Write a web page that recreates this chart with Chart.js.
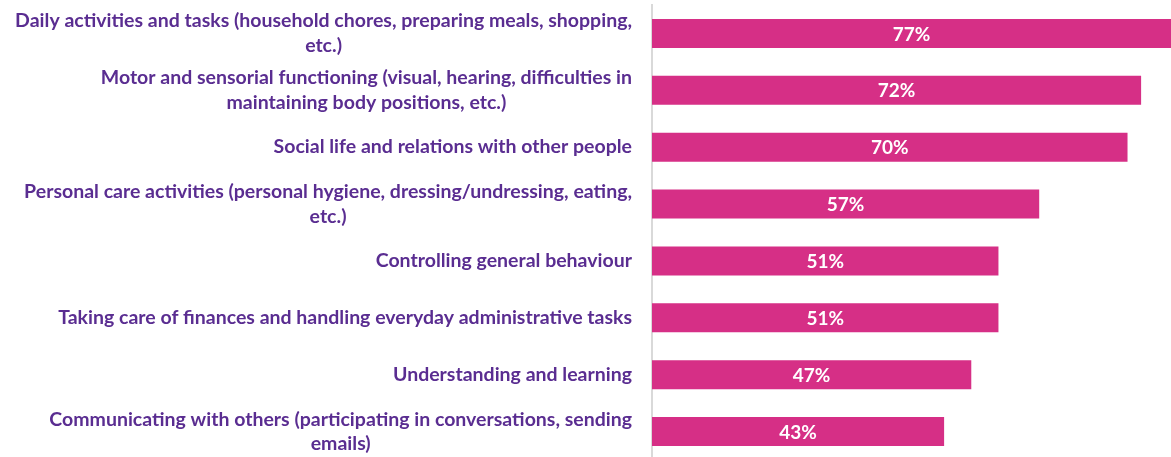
<!DOCTYPE html>
<html>
<head>
<meta charset="utf-8">
<script src="https://cdn.jsdelivr.net/npm/chart.js@4"></script>
<style>
  html, body { margin: 0; padding: 0; background: #fff; overflow: hidden; }
  #wrap { width: 1171px; height: 457px; overflow: hidden; }
  #box { position: relative; width: 1171px; height: 460px; }
</style>
</head>
<body>
<div id="wrap"><div id="box"><canvas id="barChart"></canvas></div></div>
<script>
// categories, wrapped like in the original
let categories = [
    ['Daily activities and tasks (household chores, preparing meals, shopping,', 'etc.)'],
    ['Motor and sensorial functioning (visual, hearing, difficulties in', 'maintaining body positions, etc.)'],
    ['Social life and relations with other people'],
    ['Personal care activities (personal hygiene, dressing/undressing, eating,', 'etc.)'],
    ['Controlling general behaviour'],
    ['Taking care of finances and handling everyday administrative tasks'],
    ['Understanding and learning'],
    ['Communicating with others (participating in conversations, sending', 'emails)']
];
// share in percent
let values = [77, 72, 70, 57, 51, 51, 47, 43];

const labelFont = 'bold 19.5px Lato';

//Draw the percentage inside every bar
const barLabels = {
    id: 'barLabels',
    afterDatasetsDraw(chart) {
        let ctx = chart.ctx;
        let area = chart.chartArea;
        let meta = chart.getDatasetMeta(0);
        ctx.save();
        ctx.fillStyle = '#ffffff';
        ctx.font = 'bold 19px Lato';
        ctx.textAlign = 'center';
        ctx.textBaseline = 'middle';
        meta.data.forEach((bar, i) => {
            let right = Math.min(bar.x, area.right);
            ctx.fillText(values[i] + '%', (bar.base + right) / 2, bar.y + 1);
        });
        ctx.restore();
    }
};

//Category names: block right aligned to the axis, lines centered inside the block
const categoryLabels = {
    id: 'categoryLabels',
    afterDraw(chart) {
        let ctx = chart.ctx;
        let yScale = chart.scales.y;
        let rightEdge = yScale.right - 20;
        let lineHeight = 24.5;
        ctx.save();
        ctx.fillStyle = '#5a2d91';
        ctx.font = labelFont;
        ctx.textAlign = 'center';
        ctx.textBaseline = 'middle';
        categories.forEach((lines, i) => {
            let y = yScale.getPixelForValue(i);
            let blockWidth = Math.max(...lines.map(l => ctx.measureText(l).width));
            let cx = rightEdge - blockWidth / 2;
            let top = y - (lines.length - 1) * lineHeight / 2;
            lines.forEach((line, j) => {
                ctx.fillText(line, cx, top + j * lineHeight);
            });
        });
        ctx.restore();
    }
};

let barCtx = document.getElementById('barChart').getContext('2d');
let barChart = new Chart(barCtx, {
    type: 'bar',
    data: {
        labels: categories.map(c => c.join(' ')),
        datasets: [{
            data: values,
            backgroundColor: '#d62f86',
            borderWidth: 0,
            barPercentage: 0.51,
            categoryPercentage: 1
        }]
    },
    options: {
        indexAxis: 'y',
        responsive: true,
        maintainAspectRatio: false,
        animation: false,
        layout: { padding: { top: 5, right: 0, bottom: 0, left: 0 } },
        plugins: {
            legend: { display: false },
            tooltip: { enabled: false }
        },
        scales: {
            x: {
                display: false,
                min: 0,
                max: 76.4
            },
            y: {
                grid: { display: false, drawTicks: false },
                border: { display: true, color: '#d9d9d9', width: 2 },
                ticks: { display: false },
                afterFit(scale) {
                    scale.width = 652;
                }
            }
        }
    },
    plugins: [barLabels, categoryLabels]
});
</script>
</body>
</html>
